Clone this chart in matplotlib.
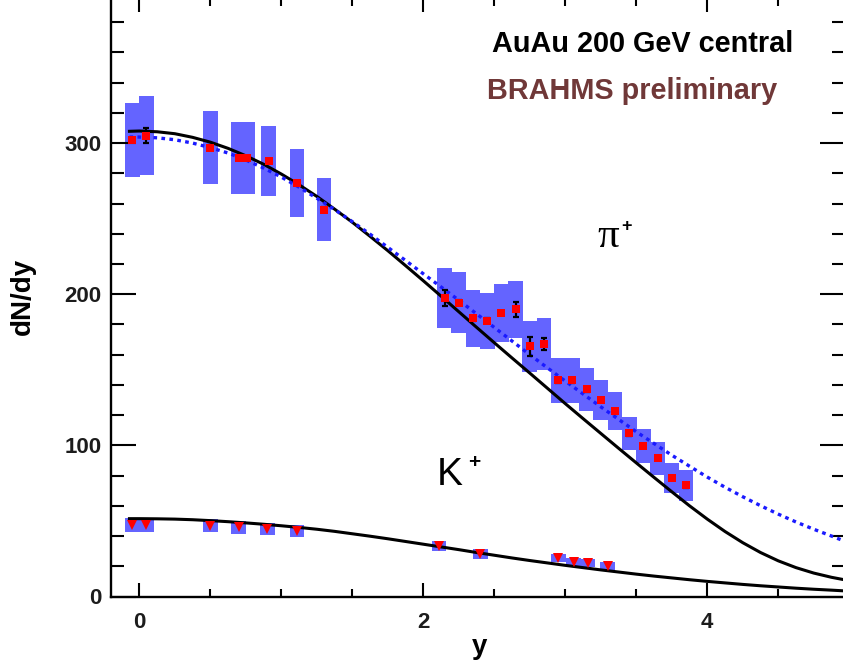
import matplotlib
matplotlib.use("Agg")
import matplotlib.pyplot as plt
from matplotlib.ticker import MultipleLocator

# ---- measured pi+ yields (rapidity, dN/dy, systematic, statistical) ----
pi_y = [-0.05, 0.05, 0.50, 0.70, 0.76, 0.91, 1.11, 1.30,
        2.15, 2.25, 2.35, 2.45, 2.55, 2.65, 2.75, 2.85,
        2.95, 3.05, 3.15, 3.25, 3.35, 3.45, 3.55, 3.65, 3.75, 3.85]
pi_dndy = [302, 305, 297, 290, 290, 288, 273.5, 256,
           197.5, 194.5, 184, 182.5, 187.5, 190, 165.5, 167,
           143, 143, 137, 130, 122.5, 108, 99.5, 91.5, 78.5, 73.5]
pi_sys = [24.5, 26, 24, 24, 24, 23, 22.5, 21,
          20, 20, 19, 18.5, 19, 19, 17, 17,
          15, 15, 14, 13, 12.5, 11, 11, 11, 10, 10]
pi_stat = [1.5, 5, 1.5, 1.5, 1.5, 1.5, 1.5, 1.5,
           5, 1.5, 1.5, 1.5, 1.5, 5, 6.5, 4,
           1.5, 1.5, 1.5, 1.5, 1.5, 1.5, 1.5, 1.5, 1.5, 1.5]

# ---- measured K+ yields ----
k_y = [-0.05, 0.05, 0.50, 0.70, 0.90, 1.11, 2.11, 2.40, 2.95, 3.06, 3.16, 3.30]
k_dndy = [47.5, 47.5, 46.7, 45.7, 44.6, 43.4, 33.5, 28.0, 25.2, 23.0, 21.9, 20.3]
k_sys = [4.5, 4.5, 4.3, 4.3, 4.2, 4.1, 3.2, 3.2, 2.7, 2.7, 2.6, 2.5]

# ---- model curves ----
curve_y = [-0.07, 0.0, 0.125, 0.25, 0.375, 0.5, 0.625, 0.75, 0.875, 1.0,
           1.125, 1.25, 1.375, 1.5, 1.625, 1.75, 1.875, 2.0, 2.125, 2.25,
           2.375, 2.5, 2.625, 2.75, 2.875, 3.0, 3.125, 3.25, 3.375, 3.5,
           3.625, 3.75, 3.875, 4.0, 4.125, 4.25, 4.375, 4.5, 4.625, 4.75,
           4.875, 4.97]
pi_model_solid = [307.8, 308, 307.5, 306.2, 303.8, 300.6, 296.5, 291.6, 286.0, 279.5,
                  272.4, 264.7, 256.3, 247.6, 238.3, 228.8, 218.9, 208.9, 198.7, 188.4,
                  178.1, 167.9, 157.8, 147.8, 137.7, 127.6, 117.7, 107.9, 98.1, 88.4,
                  78.8, 69.3, 60.0, 51.2, 43.0, 35.6, 29.1, 23.6, 19.1, 15.5,
                  12.7, 11.0]
pi_model_dotted = [304, 304, 303.5, 302.2, 300, 297, 293.4, 288.8, 283.5, 277.5,
                   270.8, 263.5, 256, 248, 239.7, 231, 222.3, 213.5, 204.8, 196,
                   187, 178, 169, 160, 151.2, 142.5, 134, 125.5, 117.2, 109,
                   101.2, 93.5, 86.2, 79, 72.3, 66, 60.1, 54.5, 49.3, 44.5,
                   40, 36.5]
k_model_solid = [51.5, 51.5, 51.4, 51.2, 50.8, 50.2, 49.5, 48.7, 47.8, 46.8,
                 45.7, 44.5, 43.1, 41.5, 39.9, 38.2, 36.4, 34.6, 32.8, 31.0,
                 29.1, 27.3, 25.5, 23.8, 22.2, 20.6, 19.1, 17.6, 16.2, 14.8,
                 13.5, 12.3, 11.1, 10.0, 9.0, 8.0, 7.1, 6.3, 5.5, 4.8,
                 4.2, 3.7]

W, H = 843, 665
fig = plt.figure(figsize=(W / 100, H / 100), dpi=100)
plt.rcParams["font.family"] = ["Liberation Sans", "DejaVu Sans"]

def fx(px):
    return px / W

def fy(py):
    return 1 - py / H

left, right, bottom, top = 111, 845, 596.5, -2
ax = fig.add_axes([fx(left), fy(bottom), (right - left) / W, (bottom - top) / H])
ax.set_xlim(-0.2, 4.97)
ax.set_ylim(0, 396)

box_color = "#6464ff"
box_w = 0.105

# systematic boxes
ax.bar(pi_y, [2 * s for s in pi_sys], bottom=[v - s for v, s in zip(pi_dndy, pi_sys)],
       width=box_w, color=box_color, linewidth=0, zorder=1)
ax.bar(k_y, [2 * s for s in k_sys], bottom=[v - s for v, s in zip(k_dndy, k_sys)],
       width=box_w, color=box_color, linewidth=0, zorder=1)

# model curves
ax.plot(curve_y, pi_model_solid, color="black", lw=2.2, zorder=3)
ax.plot(curve_y, k_model_solid, color="black", lw=2.2, zorder=3)
ax.plot(curve_y, pi_model_dotted, color="#1a1aff", lw=2.4, zorder=3,
        linestyle=(0, (1.1, 1.3)))

# statistical errors and markers
ax.errorbar(pi_y, pi_dndy, yerr=pi_stat, fmt="none", ecolor="black",
            elinewidth=1.6, capsize=2.5, capthick=1.6, zorder=4)
ax.plot(pi_y, pi_dndy, linestyle="none", marker="s", markersize=5.6,
        color="red", markeredgewidth=0, zorder=5)
ax.plot(k_y, k_dndy, linestyle="none", marker="v", markersize=7,
        color="red", markeredgewidth=0, zorder=5)

# axes styling
for sp in ax.spines.values():
    sp.set_linewidth(1.7)
ax.xaxis.set_major_locator(MultipleLocator(2))
ax.xaxis.set_minor_locator(MultipleLocator(0.5))
ax.yaxis.set_major_locator(MultipleLocator(100))
ax.yaxis.set_minor_locator(MultipleLocator(20))
ax.tick_params(axis="x", which="major", direction="in", length=10, width=1.5,
               top=True, pad=11, labelsize=16)
ax.tick_params(axis="x", which="minor", direction="in", length=6, width=1.5, top=True)
ax.tick_params(axis="y", which="major", direction="in", length=18, width=1.5,
               right=True, pad=7, labelsize=16)
ax.tick_params(axis="y", which="minor", direction="in", length=9.5, width=1.5, right=True)
for lab in ax.get_xticklabels() + ax.get_yticklabels():
    lab.set_fontweight("bold")
    lab.set_color("#1c1c1c")

# axis titles
fig.text(fx(480), fy(647), "y", fontsize=20, fontweight="bold",
         ha="center", va="center")
fig.text(fx(23), fy(296), "dN/dy", fontsize=20, fontweight="bold",
         ha="center", va="center", rotation=90)

# annotations
fig.text(fx(492), fy(52), "AuAu 200 GeV central", fontsize=20.8, fontweight="bold",
         ha="left", va="baseline", color="black")
fig.text(fx(487), fy(99), "BRAHMS preliminary", fontsize=20.8, fontweight="bold",
         ha="left", va="baseline", color="#703838")
fig.text(fx(597), fy(247), "\u03c0", fontsize=31, family=["Liberation Serif", "DejaVu Serif"],
         ha="left", va="baseline")
fig.text(fx(626), fy(226), "+", fontsize=13, fontweight="bold", ha="center", va="center")
fig.text(fx(437), fy(485), "K", fontsize=28, ha="left", va="baseline")
fig.text(fx(474), fy(462), "+", fontsize=15, fontweight="bold", ha="center", va="center")

fig.savefig("out.png", dpi=100)
